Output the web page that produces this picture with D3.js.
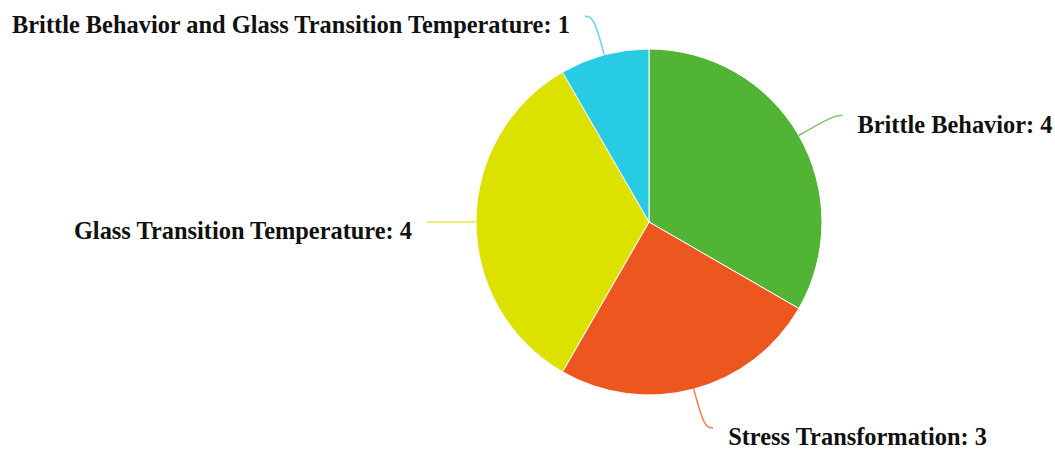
<!DOCTYPE html>
<html>
<head>
<meta charset="utf-8">
<script src="https://cdn.jsdelivr.net/npm/d3@7"></script>
<style>
  body { margin: 0; background: #fff; }
  svg text { font-family: "Times New Roman", "Liberation Serif", serif; font-weight: bold; font-size: 24.4px; fill: #111; }
</style>
</head>
<body>
<div id="chart"></div>
<script>
//-- DATA --\\
var categories = ["Brittle Behavior", "Stress Transformation", "Glass Transition Temperature", "Brittle Behavior and Glass Transition Temperature"];
var counts = [4, 3, 4, 1];
var sliceColors = ["#52b435", "#ed561e", "#dde100", "#27cbe4"];

//-- CONSTANTS --\\
var width = 1055;
var height = 449;
var cx = 649;
var cy = 222;
var radius = 173;
var len1 = 40;   // radial part of the label line
var len2 = 9;    // horizontal part of the label line
var labelGap = 15;

var svg = d3.select("#chart").append("svg")
    .attr("width", width)
    .attr("height", height);

var data = categories.map(function (c, i) { return {name: c, value: counts[i], color: sliceColors[i]}; });

var pie = d3.pie().sort(null).value(function (d) { return d.value; });
var arcs = pie(data);

var arc = d3.arc().innerRadius(0).outerRadius(radius);

var g = svg.append("g").attr("transform", "translate(" + cx + "," + cy + ")");

g.selectAll("path.slice")
    .data(arcs)
    .enter().append("path")
    .attr("class", "slice")
    .attr("d", arc)
    .attr("fill", function (d) { return d.data.color; })
    .attr("stroke", "#fff")
    .attr("stroke-width", 1);

/* label line: edge -> out along radius -> short horizontal hook */
function linePoints(d) {
    var a = (d.startAngle + d.endAngle) / 2;
    var sx = Math.sin(a), sy = -Math.cos(a);
    var p0 = [sx * radius, sy * radius];
    var p1 = [sx * (radius + len1), sy * (radius + len1)];
    var side = sx >= 0 ? 1 : -1;
    var p2 = [p1[0] + side * len2, p1[1]];
    return {pts: [p0, p1, p2], side: side};
}

var curve = d3.line().curve(d3.curveBasis);

arcs.forEach(function (d) {
    var lp = linePoints(d);
    var p = lp.pts;
    // duplicate ends so the basis curve reaches them
    g.append("path")
        .attr("d", curve([p[0], p[0], p[1], p[2], p[2]]))
        .attr("fill", "none")
        .attr("stroke", d.data.color)
        .attr("stroke-opacity", 0.75)
        .attr("stroke-width", 1.5);

    g.append("text")
        .attr("x", p[2][0] + lp.side * labelGap)
        .attr("y", p[2][1] + 17)
        .attr("text-anchor", lp.side > 0 ? "start" : "end")
        .text(d.data.name + ": " + d.data.value);
});
</script>
</body>
</html>
